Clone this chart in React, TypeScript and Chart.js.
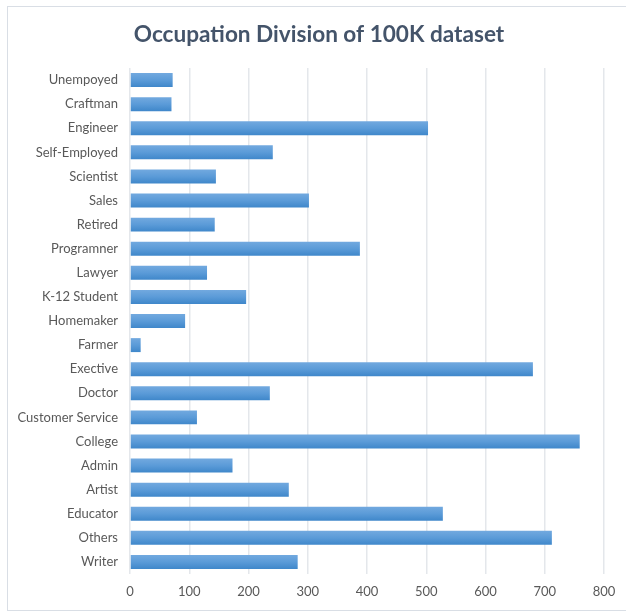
import React, { useEffect, useRef } from "react";
import { Chart, registerables } from "chart.js";

Chart.register(...registerables);

const categories = [
  "Unempoyed", "Craftman", "Engineer", "Self-Employed", "Scientist", "Sales", "Retired",
  "Programner", "Lawyer", "K-12 Student", "Homemaker", "Farmer", "Exective", "Doctor",
  "Customer Service", "College", "Admin", "Artist", "Educator", "Others", "Writer",
];
const counts = [
  72, 70, 503, 241, 145, 302, 143,
  388, 130, 196, 93, 18, 680, 236,
  113, 759, 173, 268, 528, 712, 283,
];
const xTicks = [0, 100, 200, 300, 400, 500, 600, 700, 800];
const titleText = "Occupation Division of 100K dataset";

const BAR_PCT = 0.58;

export default function App() {
  const ref = useRef<HTMLCanvasElement | null>(null);
  useEffect(() => {
    if (!ref.current) return;
    const chart = new Chart(ref.current, {
      type: "bar",
      data: {
        labels: categories,
        datasets: [
          {
            data: counts,
            yAxisID: "y",
            backgroundColor: (c: any) => {
              const ch = c.chart;
              const ys = ch.scales && ch.scales.y;
              if (!ys || c.dataIndex === undefined) return "#5b9bd5";
              const yc = ys.getPixelForValue(c.dataIndex);
              const band = (ys.bottom - ys.top) / categories.length;
              const h = band * BAR_PCT;
              if (!isFinite(yc) || !isFinite(h) || h <= 0) return "#5b9bd5";
              const g = ch.ctx.createLinearGradient(0, yc - h / 2, 0, yc + h / 2);
              g.addColorStop(0, "#72a9df");
              g.addColorStop(0.5, "#5b9bd8");
              g.addColorStop(1, "#3f87ca");
              return g;
            },
            borderWidth: 0,
            categoryPercentage: 1,
            barPercentage: BAR_PCT,
          },
        ],
      },
      options: {
        indexAxis: "y",
        animation: false,
        responsive: false,
        layout: { padding: { left: 0, right: 0, top: 0, bottom: 0 } },
        plugins: {
          legend: { display: false },
          tooltip: { enabled: false },
          title: {
            display: true,
            text: titleText,
            color: "#44546a",
            font: { family: "Lato", size: 22.6, weight: "bold", lineHeight: 1.2 },
            padding: { top: 21, bottom: 19.9 },
          },
        },
        scales: {
          x: {
            min: 0,
            max: 800,
            afterBuildTicks: (s: any) => {
              s.ticks = xTicks.map((v) => ({ value: v }));
            },
            afterFit: (s: any) => {
              s.height = 37;
            },
            grid: { color: "#e4e7eb", lineWidth: 1.5, drawTicks: false },
            border: { display: false },
            ticks: {
              color: "#595959",
              font: { family: "Lato", size: 13 },
              padding: 10,
            },
          },
          y: {
            position: "left",
            afterFit: (s: any) => {
              s.width = 130;
            },
            grid: { display: false, drawTicks: false },
            border: { display: false },
            ticks: {
              color: "#595959",
              font: { family: "Lato", size: 13 },
              padding: 12,
              autoSkip: false,
            },
          },
          yRight: {
            type: "category",
            position: "right",
            labels: categories,
            afterFit: (s: any) => {
              s.width = 34;
            },
            grid: { display: false, drawTicks: false },
            border: { display: false },
            ticks: { display: false },
          },
        },
      },
    });
    return () => chart.destroy();
  }, []);
  return (
    <div style={{ position: "absolute", left: 0, top: 0, width: 626, height: 611, overflow: "hidden", background: "#fff" }}>
      <div
        style={{
          position: "absolute",
          left: 7,
          top: 6,
          width: 640,
          height: 603,
          borderTop: "1px solid #d9dee5",
          borderLeft: "1px solid #d9dee5",
          borderBottom: "1px solid #d9dee5",
        }}
      />
      <canvas ref={ref} width={638} height={611} style={{ position: "absolute", left: 0, top: 0 }} />
    </div>
  );
}
